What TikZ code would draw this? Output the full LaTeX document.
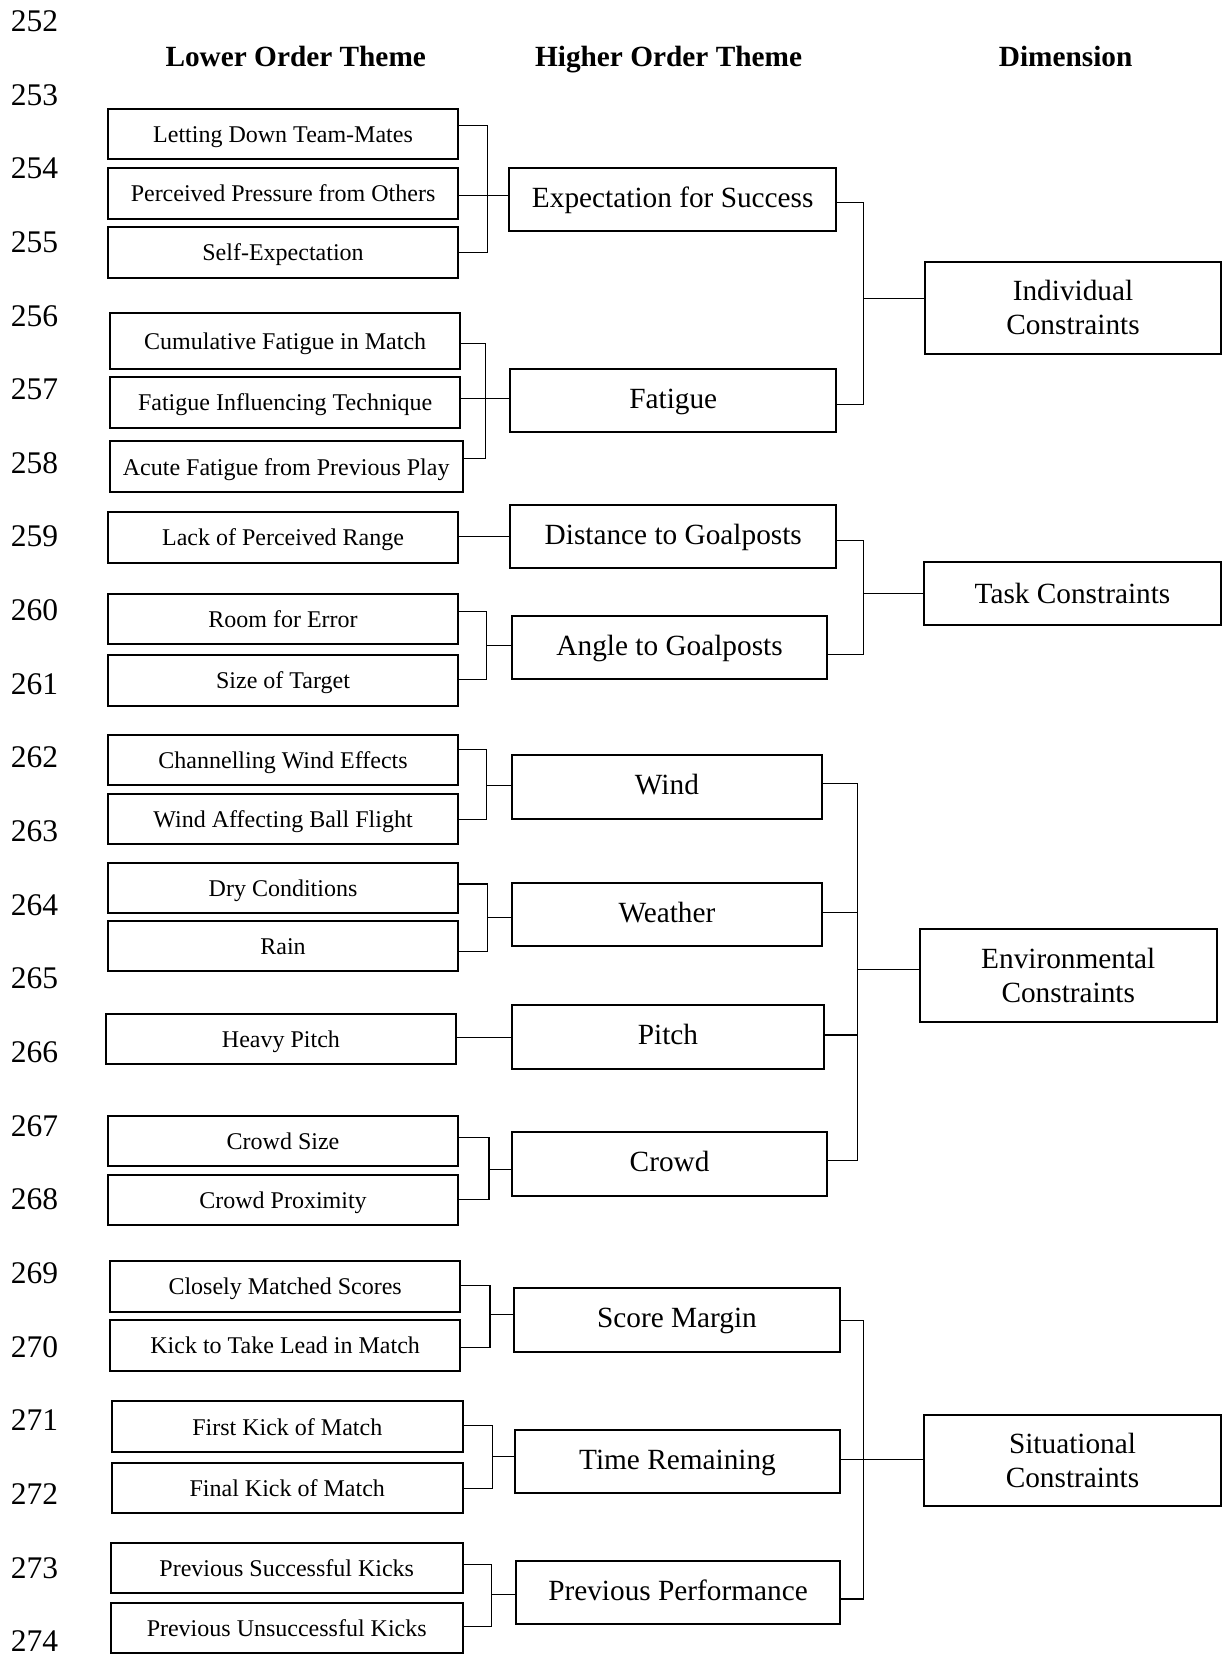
\documentclass[tikz,border=0pt]{standalone}
\usepackage{fontspec}
\setmainfont{Liberation Serif}
\usetikzlibrary{calc}
\begin{document}
\begin{tikzpicture}[x=1.0561pt,y=-1.0561pt,
  bx/.style args={#1/#2/#3/#4}{at={({(#1+#3)/2},{(#2+#4)/2})},
     minimum width={(#3-#1)*1.0561pt}, minimum height={(#4-#2)*1.0561pt}},
  box/.style={draw, line width=2pt, inner sep=0pt, anchor=center},
  lbox/.style={box, font=\fontsize{24}{28}\selectfont, text height=18pt, text depth=1.2pt},
  hbox/.style={box, font=\fontsize{29.3}{34}\selectfont, text height=22pt, text depth=6.5pt},
  dbox/.style={box, font=\fontsize{29.3}{34}\selectfont, align=center},
  conn/.style={line width=1.1pt},
  head/.style={font=\bfseries\fontsize{29.3}{34}\selectfont, anchor=base, inner sep=0pt},
  lnum/.style={font=\fontsize{31.5}{36}\selectfont, anchor=west, inner sep=0pt}]
\useasboundingbox (0,0) rectangle (1159,1568);

% line numbers
\foreach \i [evaluate=\i as \n using int(252+\i)] in {0,...,22}
  \node[lnum] (n\i) at (10,20+69.74*\i) {\n};

% headers
\node[head] (hl) at (280,63) {Lower Order Theme};
\node[head] (hh) at (633,63) {Higher Order Theme};
\node[head] (hd) at (1009,63) {Dimension};

% lower order themes
\node[lbox, bx=102/103/434/151] (l1) {Letting Down Team-Mates};
\node[lbox, bx=102/159/434/207] (l2) {Perceived Pressure from Others};
\node[lbox, bx=102/215/434/263] (l3) {Self-Expectation};
\node[lbox, bx=104/296/436/349] (l4) {Cumulative Fatigue in Match};
\node[lbox, bx=104/357/436/405] (l5) {Fatigue Influencing Technique};
\node[lbox, bx=104/418/438/466] (l6) {Acute Fatigue from Previous Play};
\node[lbox, bx=102/485/434/533] (l7) {Lack of Perceived Range};
\node[lbox, bx=102/562/434/610] (l8) {Room for Error};
\node[lbox, bx=102/620/434/668] (l9) {Size of Target};
\node[lbox, bx=102/696/434/743] (l10) {Channelling Wind Effects};
\node[lbox, bx=102/752/434/799] (l11) {Wind Affecting Ball Flight};
\node[lbox, bx=102/817/434/864] (l12) {Dry Conditions};
\node[lbox, bx=102/872/434/919] (l13) {Rain};
\node[lbox, bx=100/960/432/1007] (l14) {Heavy Pitch};
\node[lbox, bx=102/1057/434/1104] (l15) {Crowd Size};
\node[lbox, bx=102/1113/434/1160] (l16) {Crowd Proximity};
\node[lbox, bx=104/1194/436/1242] (l17) {Closely Matched Scores};
\node[lbox, bx=104/1250/436/1298] (l18) {Kick to Take Lead in Match};
\node[lbox, bx=106/1327/438/1375] (l19) {First Kick of Match};
\node[lbox, bx=106/1385/438/1433] (l20) {Final Kick of Match};
\node[lbox, bx=105/1461/438/1508] (l21) {Previous Successful Kicks};
\node[lbox, bx=105/1518/438/1565] (l22) {Previous Unsuccessful Kicks};

% higher order themes
\node[hbox, bx=482/159/792/219] (h1) {Expectation for Success};
\node[hbox, bx=483/349/792/409] (h2) {Fatigue};
\node[hbox, bx=483/478/792/538] (h3) {Distance to Goalposts};
\node[hbox, bx=485/583/783/643] (h4) {Angle to Goalposts};
\node[hbox, bx=485/715/778/775] (h5) {Wind};
\node[hbox, bx=485/836/778/896] (h6) {Weather};
\node[hbox, bx=485/952/780/1012] (h7) {Pitch};
\node[hbox, bx=485/1072/783/1132] (h8) {Crowd};
\node[hbox, bx=487/1220/795/1280] (h9) {Score Margin};
\node[hbox, bx=488/1354/795/1414] (h10) {Time Remaining};
\node[hbox, bx=489/1478/795/1538] (h11) {Previous Performance};

% dimensions
\node[dbox, bx=876/248/1156/335] (d1) {Individual\\Constraints};
\node[dbox, bx=875/532/1156/592] (d2) {Task Constraints};
\node[dbox, bx=871/880/1152/968] (d3) {Environmental\\Constraints};
\node[dbox, bx=875/1340/1156/1426] (d4) {Situational\\Constraints};

% junctions lower -> higher
\coordinate (j1) at (462,185);
\coordinate (j2) at (460,377);
\coordinate (j3) at (461,611);
\coordinate (j4) at (461,744);
\coordinate (j5) at (462,869);
\coordinate (j6) at (463,1107);
\coordinate (j7) at (464,1245);
\coordinate (j8) at (466,1379);
\coordinate (j9) at (465,1510);

\draw[conn] (l1.east |- 0,119) -| (j1) |- (l3.east |- 0,239);
\draw[conn] (l2.east |- j1) -- (h1.west |- j1);
\draw[conn] (l4.east |- 0,325) -| (j2) |- (l6.east |- 0,434);
\draw[conn] (l5.east |- j2) -- (h2.west |- j2);
\draw[conn] (l7.east |- 0,508) -- (h3.west |- 0,508);
\draw[conn] (l8.east |- 0,579) -| (j3) |- (l9.east |- 0,643);
\draw[conn] (j3) -- (h4.west |- j3);
\draw[conn] (l10.east |- 0,710) -| (j4) |- (l11.east |- 0,776);
\draw[conn] (j4) -- (h5.west |- j4);
\draw[conn] (l12.east |- 0,837) -| (j5) |- (l13.east |- 0,901);
\draw[conn] (j5) -- (h6.west |- j5);
\draw[conn] (l14.east |- 0,982) -- (h7.west |- 0,982);
\draw[conn] (l15.east |- 0,1077) -| (j6) |- (l16.east |- 0,1136);
\draw[conn] (j6) -- (h8.west |- j6);
\draw[conn] (l17.east |- 0,1217) -| (j7) |- (l18.east |- 0,1276);
\draw[conn] (j7) -- (h9.west |- j7);
\draw[conn] (l19.east |- 0,1350) -| (j8) |- (l20.east |- 0,1409);
\draw[conn] (j8) -- (h10.west |- j8);
\draw[conn] (l21.east |- 0,1481) -| (j9) |- (l22.east |- 0,1540);
\draw[conn] (j9) -- (h11.west |- j9);

% junctions higher -> dimension
\coordinate (k1) at (818,283);
\coordinate (k2) at (818,562);
\coordinate (k3) at (812,918);
\coordinate (k4) at (818,1382);

\draw[conn] (h1.east |- 0,192) -| (k1) |- (h2.east |- 0,383);
\draw[conn] (k1) -- (d1.west |- k1);
\draw[conn] (h3.east |- 0,512) -| (k2) |- (h4.east |- 0,620);
\draw[conn] (k2) -- (d2.west |- k2);
\draw[conn] (h5.east |- 0,742) -| (k3) |- (h8.east |- 0,1099);
\draw[conn] (h6.east |- 0,864) -- (k3 |- 0,864);
\draw[conn] (h7.east |- 0,980) -- (k3 |- 0,980);
\draw[conn] (k3) -- (d3.west |- k3);
\draw[conn] (h9.east |- 0,1250) -| (k4) |- (h11.east |- 0,1514);
\draw[conn] (h10.east |- k4) -- (d4.west |- k4);
\end{tikzpicture}
\end{document}
